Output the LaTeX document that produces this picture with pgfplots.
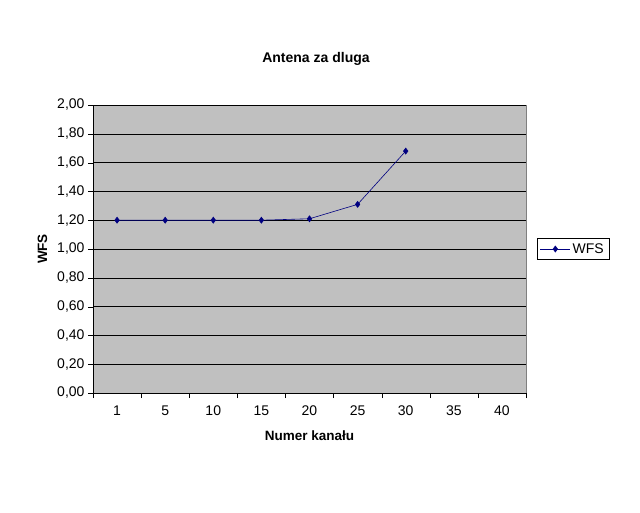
\documentclass[border=0pt]{standalone}
\usepackage{pgfplots}
\pgfplotsset{compat=1.18}
\usepackage{fontspec}
\setmainfont{Liberation Sans}
\definecolor{plotbg}{HTML}{C0C0C0}
\definecolor{navy}{HTML}{000080}
\begin{document}
\begin{tikzpicture}[x=1pt,y=1pt]
\path (0,0) rectangle (640,512);
\node[font=\fontsize{14}{16}\selectfont\bfseries] at (316,453) {Antena za dluga};
\begin{axis}[
  at={(93pt,119pt)}, anchor=south west,
  scale only axis, width=433pt, height=288pt,
  xmin=-0.5, xmax=8.5, ymin=0, ymax=2,
  axis lines=left, axis line style={-, black},
  axis background/.style={fill=plotbg, draw=gray},
  xtick={0,...,8}, xticklabels={1,5,10,15,20,25,30,35,40},
  major x tick style={draw=none},
  minor xtick={-0.5,0.5,...,8.5},
  minor x tick style={black},
  ytick={0,0.2,...,2.01},
  ymajorgrids, major grid style={black, line width=0.6pt},
  tick align=outside, major tick length=5pt, minor tick length=5pt,
  tick style={black},
  y tick label style={/pgf/number format/.cd, use comma, fixed, fixed zerofill, precision=2},
  /pgf/number format/assume math mode=true,
  ticklabel style={font=\fontsize{14}{16}\selectfont},
  xticklabel style={yshift=-4pt},
  xlabel={\bfseries Numer kanału}, ylabel={\bfseries WFS},
  label style={font=\fontsize{13.5}{15}\selectfont},
  xlabel style={yshift=-8pt},
  ylabel style={yshift=3pt},
  legend style={at={(1.025,0.5)}, anchor=west, draw=black, font=\fontsize{14}{16}\selectfont, inner sep=3pt},
  legend image code/.code={\draw[#1] (0pt,0pt) -- (30pt,0pt); \draw[#1, mark repeat=1] plot coordinates {(15pt,0pt)};},
  legend cell align=left,
]
\addplot[navy, line width=0.6pt, mark=diamond*, mark size=3pt, mark options={fill=navy}] coordinates {
(0,1.20) (1,1.20) (2,1.20) (3,1.20) (4,1.21) (5,1.31) (6,1.68)};
\addlegendentry{WFS}
\end{axis}
\end{tikzpicture}
\end{document}
